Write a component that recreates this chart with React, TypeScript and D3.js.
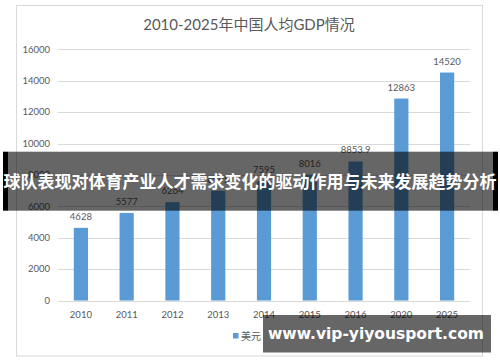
import React, { useEffect, useRef } from 'react';
import * as d3 from 'd3';

const years = ['2010', '2011', '2012', '2013', '2014', '2015', '2016', '2020', '2025'];
const gdpUsd = [4628, 5577, 6264, 6995, 7595, 8016, 8853.9, 12863, 14520];
const yTicks = [0, 2000, 4000, 6000, 8000, 10000, 12000, 14000, 16000];

const title = '2010-2025年中国人均GDP情况';
const seriesName = '美元';
const bannerText = '球队表现对体育产业人才需求变化的驱动作用与未来发展趋势分析';
const watermark = 'www.vip-yiyousport.com';

const W = 500;
const H = 362;
const font = "Lato, 'Noto Sans CJK SC', sans-serif";
const textColor = '#595959';
const barColor = '#5b9bd5';

const App: React.FC = () => {
  const svgRef = useRef<SVGSVGElement | null>(null);

  useEffect(() => {
    if (!svgRef.current) return;
    const svg = d3.select(svgRef.current);
    svg.selectAll('*').remove();

    const plot = { left: 58, right: 470, top: 49.3, bottom: 300.5 };

    const x = d3.scaleBand<string>()
      .domain(years)
      .range([plot.left, plot.right])
      .paddingInner(0.69)
      .paddingOuter(0.345);

    const y = d3.scaleLinear()
      .domain([0, 16000])
      .range([plot.bottom, plot.top]);

    // chart frame
    svg.append('rect')
      .attr('x', 16.5).attr('y', 5.5)
      .attr('width', 466).attr('height', 350.5)
      .attr('fill', '#fff')
      .attr('stroke', '#d9d9d9');

    svg.append('text')
      .attr('x', 249).attr('y', 24.5)
      .attr('dy', '0.35em')
      .attr('text-anchor', 'middle')
      .attr('font-family', font)
      .attr('font-size', 15)
      .attr('fill', textColor)
      .text(title);

    // grid + y labels
    const grid = svg.append('g');
    grid.selectAll('line')
      .data(yTicks)
      .join('line')
      .attr('x1', plot.left).attr('x2', plot.right)
      .attr('y1', d => Math.round(y(d)) + 0.5)
      .attr('y2', d => Math.round(y(d)) + 0.5)
      .attr('stroke', '#d9d9d9');
    grid.selectAll('text')
      .data(yTicks)
      .join('text')
      .attr('x', 50)
      .attr('y', d => y(d))
      .attr('dy', '0.35em')
      .attr('text-anchor', 'end')
      .attr('font-family', font)
      .attr('font-size', 9.5)
      .attr('fill', textColor)
      .text(d => d);

    // bars
    svg.append('g')
      .selectAll('rect')
      .data(gdpUsd)
      .join('rect')
      .attr('x', (_, i) => x(years[i])!)
      .attr('y', d => y(d))
      .attr('width', x.bandwidth())
      .attr('height', d => y(0) - y(d))
      .attr('fill', barColor);

    svg.append('g')
      .selectAll('text')
      .data(gdpUsd)
      .join('text')
      .attr('x', (_, i) => x(years[i])! + x.bandwidth() / 2)
      .attr('y', d => y(d) - 8)
      .attr('text-anchor', 'middle')
      .attr('font-family', font)
      .attr('font-size', 9.5)
      .attr('fill', textColor)
      .text(d => d);

    // x labels
    svg.append('g')
      .selectAll('text')
      .data(years)
      .join('text')
      .attr('x', d => x(d)! + x.bandwidth() / 2)
      .attr('y', 314.5)
      .attr('dy', '0.35em')
      .attr('text-anchor', 'middle')
      .attr('font-family', font)
      .attr('font-size', 9.5)
      .attr('fill', textColor)
      .text(d => d);

    // legend
    svg.append('rect')
      .attr('x', 233).attr('y', 333)
      .attr('width', 5.5).attr('height', 5.5)
      .attr('fill', barColor);
    svg.append('text')
      .attr('x', 241).attr('y', 336)
      .attr('dy', '0.35em')
      .attr('font-family', font)
      .attr('font-size', 10)
      .attr('fill', textColor)
      .text(seriesName);

    // headline banner over the chart
    svg.append('rect')
      .attr('x', 3).attr('y', 151.7)
      .attr('width', 5).attr('height', 59)
      .attr('fill', '#000');
    svg.append('rect')
      .attr('x', 493).attr('y', 151.7)
      .attr('width', 5).attr('height', 59)
      .attr('fill', '#000');
    svg.append('rect')
      .attr('x', 8).attr('y', 151.7)
      .attr('width', 485).attr('height', 59)
      .attr('fill', 'rgba(0,0,0,0.6)');
    svg.append('text')
      .attr('x', 250).attr('y', 182.5)
      .attr('dy', '0.35em')
      .attr('text-anchor', 'middle')
      .attr('font-family', "'Noto Sans CJK SC', sans-serif")
      .attr('font-weight', 'bold')
      .attr('font-size', 17)
      .attr('fill', '#fff')
      .text(bannerText);

    // watermark
    svg.append('rect')
      .attr('x', 263).attr('y', 315)
      .attr('width', 228).attr('height', 37.5)
      .attr('fill', 'rgba(0,0,0,0.6)');
    svg.append('text')
      .attr('x', 376).attr('y', 334)
      .attr('dy', '0.35em')
      .attr('text-anchor', 'middle')
      .attr('font-family', "'DejaVu Sans', sans-serif")
      .attr('font-weight', 'bold')
      .attr('font-size', 15.5)
      .attr('fill', '#fff')
      .text(watermark);
  }, []);

  return (
    <svg
      ref={svgRef}
      width={W}
      height={H}
      style={{ position: 'absolute', left: 0, top: 0, background: '#fff' }}
    />
  );
};

export default App;
